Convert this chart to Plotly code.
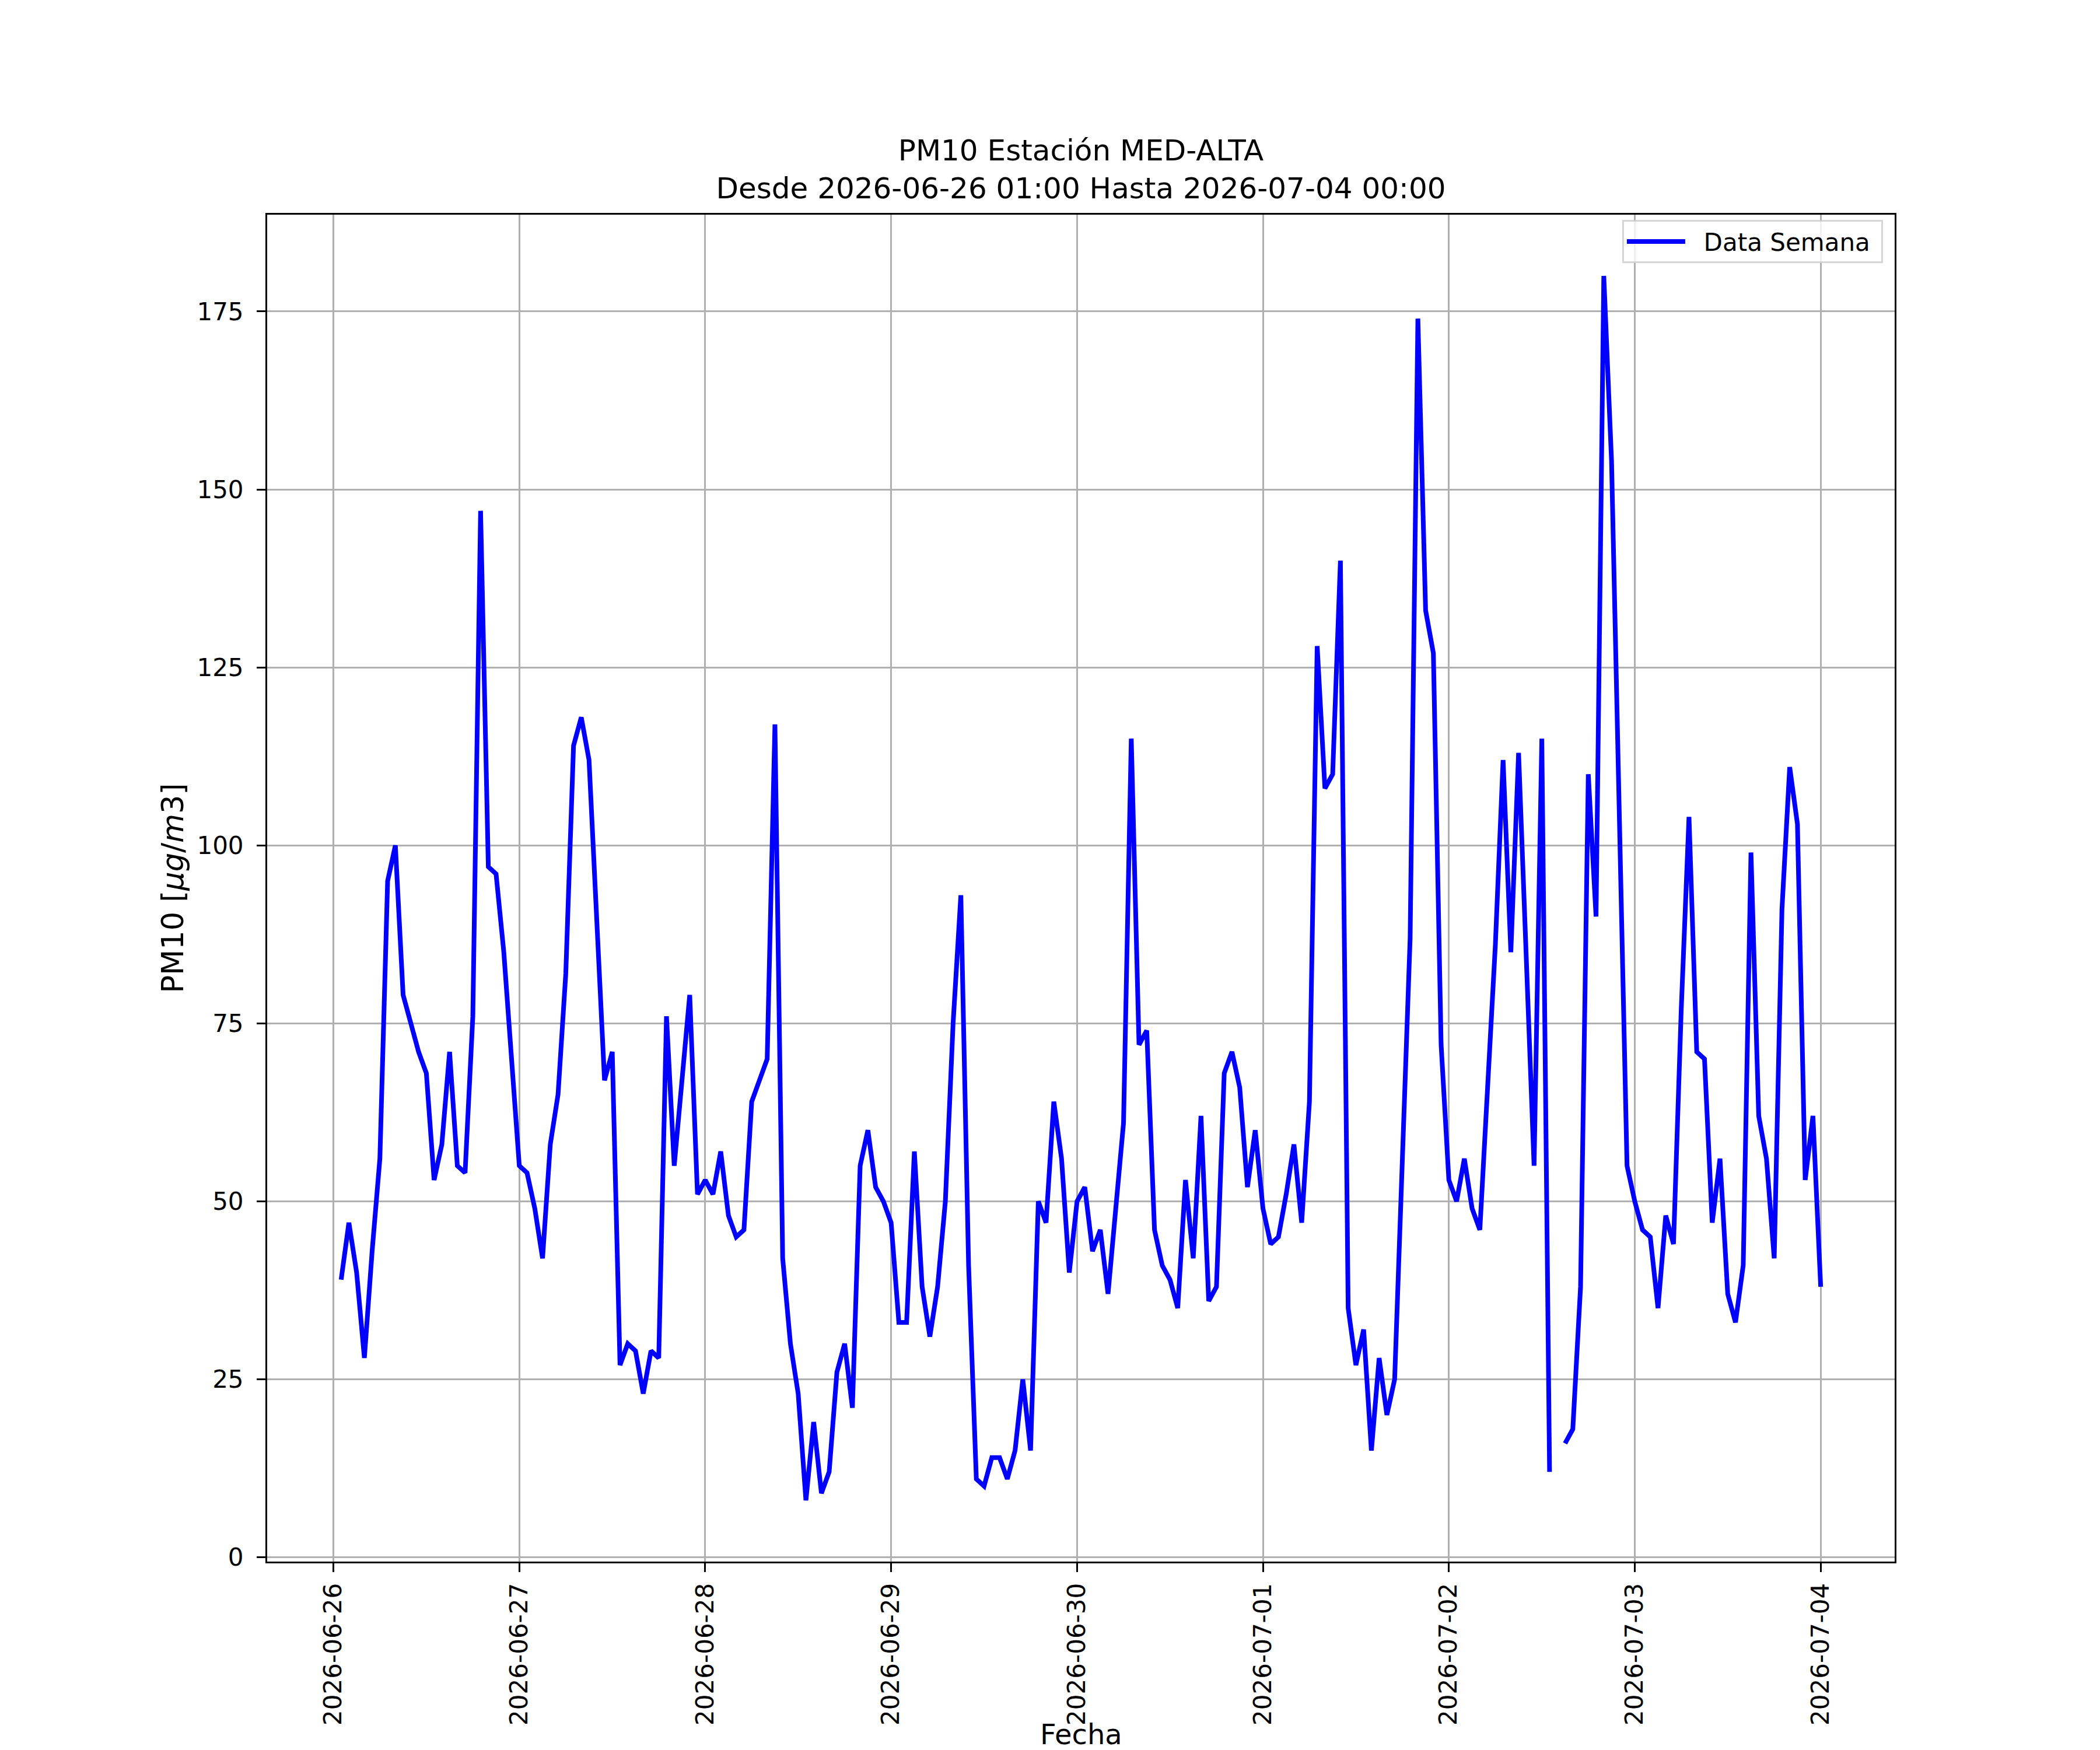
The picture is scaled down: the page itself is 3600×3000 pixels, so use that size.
"""PM10 hourly series for station MED-ALTA, one week, matplotlib-like look in Plotly."""

import pandas as pd
import plotly.graph_objects as go

# Hourly PM10 [ug/m3]; each list holds 01:00 .. 24:00 of that day
pm10_0626 = [39, 47, 40, 28, 43, 56, 95, 100, 79, 75, 71, 68, 53, 58, 71, 55, 54, 76, 147, 97, 96, 85, 70, 55]
pm10_0627 = [54, 49, 42, 58, 65, 82, 114, 118, 112, 90, 67, 71, 27, 30, 29, 23, 29, 28, 76, 55, 67, 79, 51, 53]
pm10_0628 = [51, 57, 48, 45, 46, 64, 67, 70, 117, 42, 30, 23, 8, 19, 9, 12, 26, 30, 21, 55, 60, 52, 50, 47]
pm10_0629 = [33, 33, 57, 38, 31, 38, 50, 75, 93, 41, 11, 10, 14, 14, 11, 15, 25, 15, 50, 47, 64, 56, 40, 50]
pm10_0630 = [52, 43, 46, 37, 49, 61, 115, 72, 74, 46, 41, 39, 35, 53, 42, 62, 36, 38, 68, 71, 66, 52, 60, 49]
pm10_0701 = [44, 45, 51, 58, 47, 64, 128, 108, 110, 140, 35, 27, 32, 15, 28, 20, 25, 56, 87, 174, 133, 127, 72, 53]
pm10_0702 = [50, 56, 49, 46, 66, 86, 112, 85, 113, 84, 55, 115, 12, None, 16, 18, 38, 110, 90, 180, 154, 104, 55, 50]
pm10_0703 = [46, 45, 35, 48, 44, 77, 104, 71, 70, 47, 56, 37, 33, 41, 99, 62, 56, 42, 91, 111, 103, 53, 62, 38]

START = "2026-06-26 01:00"
END = "2026-07-04 00:00"
day_ticks = ["2026-06-26", "2026-06-27", "2026-06-28", "2026-06-29",
             "2026-06-30", "2026-07-01", "2026-07-02", "2026-07-03", "2026-07-04"]
y_ticks = [0, 25, 50, 75, 100, 125, 150, 175]

FONT = "DejaVu Sans"
GRID = "#b0b0b0"
NBSP = "\u00a0"

values = (pm10_0626 + pm10_0627 + pm10_0628 + pm10_0629
          + pm10_0630 + pm10_0701 + pm10_0702 + pm10_0703)
times = pd.date_range(START, END, freq="h")

# matplotlib-style 5% data margins
t0, t1 = times[0], times[-1]
pad_t = (t1 - t0) * 0.05
valid = [v for v in values if v is not None]
pad_y = (max(valid) - min(valid)) * 0.05
x_range = [(t0 - pad_t).strftime("%Y-%m-%d %H:%M:%S"), (t1 + pad_t).strftime("%Y-%m-%d %H:%M:%S")]
y_range = [min(valid) - pad_y, max(valid) + pad_y]

fig = go.Figure()
fig.add_trace(
    go.Scatter(
        x=times,
        y=values,
        mode="lines",
        # padding spaces mimic matplotlib's legend handle gap / border pad
        name=NBSP * 2 + "Data Semana" + NBSP,
        line=dict(color="blue", width=8),
        connectgaps=False,
    )
)

axis_common = dict(
    showline=True,
    linecolor="black",
    linewidth=3,
    mirror=True,
    ticks="outside",
    ticklen=15,
    tickwidth=3,
    tickcolor="black",
    showgrid=True,
    gridcolor=GRID,
    gridwidth=3,
    zeroline=False,
    tickfont=dict(family=FONT, size=42, color="black"),
)

fig.update_layout(
    template="none",
    width=3600,
    height=3000,
    paper_bgcolor="white",
    plot_bgcolor="white",
    margin=dict(l=450, r=360, t=360, b=331),
    font=dict(family=FONT, color="black"),
    title=dict(
        text="PM10 Estación MED-ALTA<br>Desde 2026-06-26 01:00 Hasta 2026-07-04 00:00",
        x=0.5125,
        xanchor="center",
        yref="container",
        y=0.911,
        yanchor="middle",
        font=dict(family=FONT, size=50, color="black"),
    ),
    xaxis=dict(
        axis_common,
        type="date",
        range=x_range,
        tickvals=day_ticks,
        ticktext=day_ticks,
        tickangle=-90,
        ticklabelstandoff=2,
    ),
    yaxis=dict(
        axis_common,
        range=y_range,
        tickvals=y_ticks,
        ticklabelstandoff=14,
    ),
    showlegend=True,
    legend=dict(
        x=0.9928,
        y=0.996,
        xanchor="right",
        yanchor="top",
        bgcolor="rgba(255,255,255,0.8)",
        bordercolor="rgba(204,204,204,0.8)",
        borderwidth=3,
        itemwidth=100,
        font=dict(family=FONT, size=42, color="black"),
    ),
    annotations=[
        dict(
            text="Fecha",
            xref="paper",
            yref="paper",
            x=0.5,
            y=0,
            yshift=-296,
            xanchor="center",
            yanchor="middle",
            showarrow=False,
            font=dict(family=FONT, size=48, color="black"),
        ),
        dict(
            text="PM10 [<i>μg</i>/<i>m</i>3]",
            xref="paper",
            yref="paper",
            x=0,
            y=0.5,
            xshift=-162,
            xanchor="center",
            yanchor="middle",
            textangle=-90,
            showarrow=False,
            font=dict(family=FONT, size=51, color="black"),
        ),
    ],
)

fig.write_html("out.html")

# ========================= EOF ====================================================================
